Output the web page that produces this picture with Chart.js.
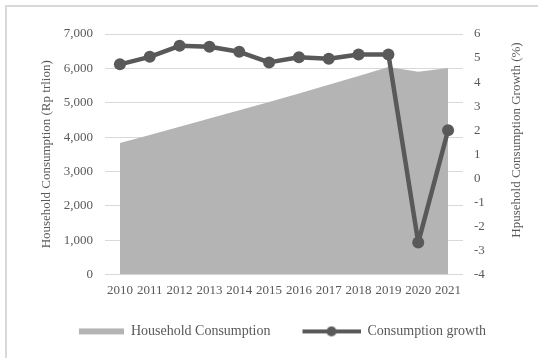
<!DOCTYPE html>
<html>
<head>
<meta charset="utf-8">
<script src="https://cdn.jsdelivr.net/npm/chart.js@4/dist/chart.umd.min.js"></script>
<style>
    html, body { margin: 0; padding: 0; background: #fff; }
    #wrap { position: relative; width: 538px; height: 358px; overflow: hidden; }
    #frame { position: absolute; left: 5px; top: 5px; width: 600px; height: 600px;
             border-left: 2px solid #d9d9d9; border-top: 2px solid #d9d9d9; }
    canvas { position: absolute; left: 0; top: 0; }
</style>
</head>
<body>
<div id="wrap">
    <div id="frame"></div>
    <canvas id="chart" width="538" height="358"></canvas>
</div>
<script>
var years = ['2010', '2011', '2012', '2013', '2014', '2015', '2016', '2017', '2018', '2019', '2020', '2021'];
var consumption = [3830, 4060, 4300, 4540, 4780, 5020, 5270, 5520, 5780, 6040, 5900, 6010];
var growth = [4.74, 5.05, 5.51, 5.47, 5.26, 4.82, 5.03, 4.97, 5.15, 5.15, -2.67, 2.0];
var seriesNames = ['Household Consumption', 'Consumption growth'];
var leftTitle = 'Household Consumption (Rp trlion)';
var rightTitle = 'Hpusehold Consumption Growth (%)';

var textColor = '#595959';
var areaColor = '#b4b4b4';
var lineColor = '#595959';
var fontFamily = "'Liberation Serif', 'Times New Roman', serif";

// legend markers drawn on small canvases
function makeAreaMarker() {
    var c = document.createElement('canvas');
    c.width = 66; c.height = 10;
    var g = c.getContext('2d');
    g.fillStyle = areaColor;
    g.fillRect(21, 2, 45, 6);
    return c;
}
function makeLineMarker() {
    var c = document.createElement('canvas');
    c.width = 66; c.height = 12;
    var g = c.getContext('2d');
    g.strokeStyle = lineColor;
    g.lineWidth = 4;
    g.beginPath(); g.moveTo(8, 6); g.lineTo(66, 6); g.stroke();
    g.fillStyle = lineColor;
    g.beginPath(); g.arc(37, 6, 5, 0, Math.PI * 2); g.fill();
    return c;
}
var markers = [makeAreaMarker(), makeLineMarker()];

// right axis title reads bottom to top, like the left one
var rightTitlePlugin = {
    id: 'rightTitle',
    afterDraw: function(ch) {
        var s = ch.scales.y1;
        var c = ch.ctx;
        c.save();
        c.translate(s.left + 54, ch.chartArea.top + 106);
        c.rotate(-Math.PI / 2);
        c.fillStyle = textColor;
        c.font = '13px ' + fontFamily;
        c.textAlign = 'center';
        c.textBaseline = 'middle';
        c.fillText(rightTitle, 0, 0);
        c.restore();
    }
};

var ctx = document.getElementById('chart').getContext('2d');
var chart = new Chart(ctx, {
    type: 'line',
    data: {
        labels: years,
        datasets: [{
            label: seriesNames[0],
            data: consumption,
            yAxisID: 'y',
            fill: 'origin',
            backgroundColor: areaColor,
            borderWidth: 0,
            pointRadius: 0,
            tension: 0,
            order: 1
        }, {
            label: seriesNames[1],
            data: growth,
            yAxisID: 'y1',
            fill: false,
            borderColor: lineColor,
            borderWidth: 4.5,
            borderJoinStyle: 'round',
            pointRadius: 6,
            pointBackgroundColor: lineColor,
            pointBorderWidth: 0,
            tension: 0,
            order: 0
        }]
    },
    plugins: [rightTitlePlugin],
    options: {
        responsive: false,
        animation: false,
        layout: { padding: { left: 30, right: 24, top: 34, bottom: 9.6 } },
        font: { family: fontFamily, size: 13 },
        plugins: {
            tooltip: { enabled: false },
            legend: {
                position: 'bottom',
                labels: {
                    color: textColor,
                    font: { family: fontFamily, size: 14 },
                    usePointStyle: true,
                    pointStyleWidth: 66,
                    padding: 24,
                    generateLabels: function(ch) {
                        return seriesNames.map(function(name, i) {
                            return {
                                text: name,
                                pointStyle: markers[i],
                                datasetIndex: i,
                                fontColor: textColor,
                                lineWidth: 0,
                                hidden: false
                            };
                        });
                    }
                }
            }
        },
        scales: {
            x: {
                offset: true,
                grid: { display: false, drawTicks: false },
                border: { display: false },
                afterFit: function(s) { s.height = 25.8; },
                ticks: {
                    color: textColor,
                    font: { family: fontFamily, size: 13 },
                    maxRotation: 0,
                    autoSkip: false,
                    padding: 8
                }
            },
            y: {
                position: 'left',
                min: 0,
                max: 7000,
                grid: { color: '#d9d9d9', drawTicks: false },
                border: { display: false },
                afterFit: function(s) { s.width = 75; },
                ticks: {
                    stepSize: 1000,
                    color: textColor,
                    font: { family: fontFamily, size: 13 },
                    padding: 12
                },
                title: {
                    display: true,
                    text: leftTitle,
                    color: textColor,
                    font: { family: fontFamily, size: 13 },
                    padding: { top: 9, bottom: 7 }
                }
            },
            y1: {
                position: 'right',
                min: -4,
                max: 6,
                grid: { drawOnChartArea: false, drawTicks: false },
                border: { display: false },
                afterFit: function(s) { s.width = 51; },
                ticks: {
                    stepSize: 1,
                    color: textColor,
                    font: { family: fontFamily, size: 13 },
                    padding: 11
                }
            }
        }
    }
});
</script>
</body>
</html>
